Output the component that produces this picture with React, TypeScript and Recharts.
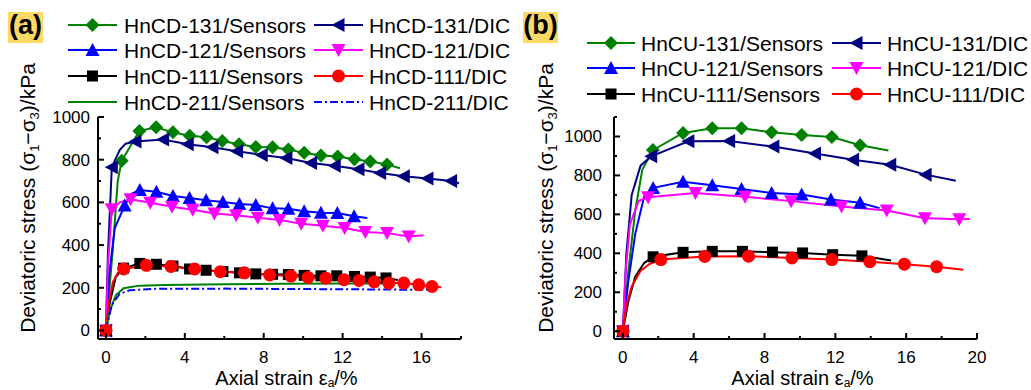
import { ComposedChart, Line, XAxis, YAxis, Label } from 'recharts'

type Pt = [number, number]
type Shape = 'diamond' | 'left' | 'up' | 'down' | 'square' | 'circle' | null

// ---------- (a) HnCD specimens: marked samples + extra curve points ----------
const cd131SensorsMarks: Pt[] = [[0, 0], [0.8, 795], [1.7, 935], [2.55, 952], [3.4, 928], [4.25, 912], [5.1, 905], [5.9, 888], [6.75, 872], [7.6, 860], [8.45, 858], [9.25, 848], [10.05, 832], [10.9, 820], [11.75, 815], [12.6, 802], [13.4, 792], [14.25, 778]]
const cd131SensorsLine: Pt[] = [[0.35, 380], [0.6, 700], [14.9, 760]]
const cd131DicMarks: Pt[] = [[0, 0], [0.3, 765], [1.5, 885], [2.9, 895], [4.15, 872], [5.4, 858], [6.65, 840], [7.9, 822], [9.15, 808], [10.4, 785], [11.6, 772], [12.8, 755], [13.9, 738], [15.1, 722], [16.3, 712], [17.5, 700]]
const cd131DicLine: Pt[] = [[0.1, 350], [0.7, 845], [1.0, 875], [17.9, 690]]
const cd121SensorsMarks: Pt[] = [[0, 0], [0.95, 585], [1.72, 658], [2.56, 650], [3.4, 630], [4.24, 620], [5.08, 610], [5.93, 602], [6.77, 593], [7.6, 588], [8.45, 572], [9.25, 570], [10.05, 558], [10.9, 552], [11.73, 550], [12.58, 535]]
const cd121SensorsLine: Pt[] = [[0.15, 250], [0.45, 480], [1.3, 640], [13.25, 527]]
const cd121DicMarks: Pt[] = [[0, 0], [0.3, 568], [1.25, 615], [2.25, 598], [3.35, 580], [4.4, 565], [5.5, 548], [6.6, 540], [7.7, 528], [8.8, 518], [9.9, 500], [11.0, 490], [12.1, 480], [13.15, 461], [14.25, 456], [15.35, 440]]
const cd121DicLine: Pt[] = [[0.1, 300], [0.7, 600], [16.1, 446]]
const cd111SensorsMarks: Pt[] = [[0, 0], [0.9, 292], [1.72, 314], [2.56, 310], [3.4, 302], [4.24, 288], [5.08, 282], [5.93, 276], [6.77, 270], [7.6, 265], [8.45, 263], [9.25, 262], [10.05, 258], [10.9, 256], [11.7, 256], [12.6, 253], [13.4, 250], [14.2, 246]]
const cd111SensorsLine: Pt[] = [[0.2, 130], [0.5, 250], [14.8, 236]]
const cd111DicMarks: Pt[] = [[0, 0], [0.9, 288], [2.05, 305], [3.3, 300], [4.5, 288], [5.8, 275], [7.02, 270], [8.3, 260], [9.38, 255], [10.25, 248], [11.15, 245], [12.07, 238], [12.83, 234], [13.6, 228], [14.34, 222], [15.1, 222], [15.86, 214], [16.53, 206]]
const cd111DicLine: Pt[] = [[0.15, 130], [0.35, 225], [0.6, 270], [17.0, 203]]
const cd211SensorsLine: Pt[] = [[0, 0], [0.2, 90], [0.5, 165], [0.9, 198], [1.7, 210], [3, 213], [6, 216], [9, 219], [12, 220], [14.6, 220]]
const cd211DicLine: Pt[] = [[0, 0], [0.3, 120], [0.7, 172], [1.2, 188], [2.5, 195], [6, 196], [10, 194], [14, 192], [16.4, 190]]

// ---------- (b) HnCU specimens ----------
const cu131SensorsMarks: Pt[] = [[0, 0], [1.7, 930], [3.4, 1018], [5.05, 1042], [6.7, 1042], [8.4, 1022], [10.1, 1008], [11.8, 997], [13.4, 955]]
const cu131SensorsLine: Pt[] = [[0.3, 300], [0.7, 620], [1.1, 830], [15.0, 928]]
const cu131DicMarks: Pt[] = [[0, 0], [1.6, 898], [3.7, 975], [6.0, 977], [8.5, 948], [10.85, 912], [13.0, 880], [15.1, 855], [17.1, 804]]
const cu131DicLine: Pt[] = [[0.2, 400], [0.5, 700], [1.0, 850], [18.8, 773]]
const cu121SensorsMarks: Pt[] = [[0, 0], [1.71, 736], [3.4, 768], [5.05, 750], [6.7, 730], [8.4, 710], [10.1, 702], [11.75, 676], [13.4, 660]]
const cu121SensorsLine: Pt[] = [[0.3, 250], [0.7, 500], [1.2, 690], [14.5, 632]]
const cu121DicMarks: Pt[] = [[0, 0], [1.43, 688], [4.1, 710], [6.9, 690], [9.5, 668], [12.35, 640], [14.9, 620], [17.06, 580], [19.0, 575]]
const cu121DicLine: Pt[] = [[0.15, 300], [0.4, 550], [0.9, 670], [19.6, 576]]
const cu111SensorsMarks: Pt[] = [[0, 0], [1.71, 382], [3.4, 405], [5.05, 410], [6.75, 410], [8.45, 406], [10.15, 402], [11.85, 393], [13.5, 387]]
const cu111SensorsLine: Pt[] = [[0.3, 150], [0.7, 280], [1.2, 350], [15.15, 363]]
const cu111DicMarks: Pt[] = [[0, 0], [2.15, 368], [4.63, 384], [7.1, 385], [9.55, 376], [11.8, 368], [13.95, 357], [15.9, 344], [17.72, 331]]
const cu111DicLine: Pt[] = [[0.2, 130], [0.5, 230], [1.0, 310], [1.5, 345], [19.23, 316]]

// axis ticks
const xTicksA = [0, 2, 4, 6, 8, 10, 12, 14, 16, 18]
const yTicksA = [0, 100, 200, 300, 400, 500, 600, 700, 800, 900, 1000]
const xTicksB = [0, 2, 4, 6, 8, 10, 12, 14, 16, 18, 20]
const yTicksB = [0, 100, 200, 300, 400, 500, 600, 700, 800, 900, 1000, 1100]

const FONT = '"Liberation Sans", Arial, Helvetica, sans-serif'

interface Series {
  name: string
  color: string
  shape: Shape
  dash?: string
  marks: Pt[]
  line: Pt[]
}

const seriesA: Series[] = [
  { name: 'HnCD-131/Sensors', color: '#008000', shape: 'diamond', marks: cd131SensorsMarks, line: cd131SensorsLine },
  { name: 'HnCD-131/DIC', color: '#000080', shape: 'left', marks: cd131DicMarks, line: cd131DicLine },
  { name: 'HnCD-121/Sensors', color: '#0000ff', shape: 'up', marks: cd121SensorsMarks, line: cd121SensorsLine },
  { name: 'HnCD-121/DIC', color: '#ff00ff', shape: 'down', marks: cd121DicMarks, line: cd121DicLine },
  { name: 'HnCD-111/Sensors', color: '#000000', shape: 'square', marks: cd111SensorsMarks, line: cd111SensorsLine },
  { name: 'HnCD-111/DIC', color: '#ff0000', shape: 'circle', marks: cd111DicMarks, line: cd111DicLine },
  { name: 'HnCD-211/Sensors', color: '#008000', shape: null, marks: [], line: cd211SensorsLine },
  { name: 'HnCD-211/DIC', color: '#0000ff', shape: null, dash: '8 3 2 3', marks: [], line: cd211DicLine },
]

const seriesB: Series[] = [
  { name: 'HnCU-131/Sensors', color: '#008000', shape: 'diamond', marks: cu131SensorsMarks, line: cu131SensorsLine },
  { name: 'HnCU-131/DIC', color: '#000080', shape: 'left', marks: cu131DicMarks, line: cu131DicLine },
  { name: 'HnCU-121/Sensors', color: '#0000ff', shape: 'up', marks: cu121SensorsMarks, line: cu121SensorsLine },
  { name: 'HnCU-121/DIC', color: '#ff00ff', shape: 'down', marks: cu121DicMarks, line: cu121DicLine },
  { name: 'HnCU-111/Sensors', color: '#000000', shape: 'square', marks: cu111SensorsMarks, line: cu111SensorsLine },
  { name: 'HnCU-111/DIC', color: '#ff0000', shape: 'circle', marks: cu111DicMarks, line: cu111DicLine },
]

function toRows(s: Series) {
  return [
    ...s.marks.map(([x, y]) => ({ x, y, m: true })),
    ...s.line.map(([x, y]) => ({ x, y, m: false })),
  ].sort((a, b) => a.x - b.x)
}

function Marker({ shape, cx, cy, color }: { shape: Shape; cx: number; cy: number; color: string }) {
  const r = 7
  switch (shape) {
    case 'diamond':
      return <polygon points={`${cx},${cy - r} ${cx + r},${cy} ${cx},${cy + r} ${cx - r},${cy}`} fill={color} />
    case 'left':
      return <polygon points={`${cx - r},${cy} ${cx + r - 1},${cy - r} ${cx + r - 1},${cy + r}`} fill={color} />
    case 'up':
      return <polygon points={`${cx},${cy - r} ${cx + r},${cy + r - 1} ${cx - r},${cy + r - 1}`} fill={color} />
    case 'down':
      return <polygon points={`${cx},${cy + r} ${cx + r},${cy - r + 1} ${cx - r},${cy - r + 1}`} fill={color} />
    case 'square':
      return <rect x={cx - 5.5} y={cy - 5.5} width={11} height={11} fill={color} />
    case 'circle':
      return <circle cx={cx} cy={cy} r={6.5} fill={color} />
    default:
      return null
  }
}

function XTick(props: any) {
  const { x, y, payload } = props
  const major = payload.value % 4 === 0
  return (
    <g>
      <line x1={x} x2={x} y1={y} y2={y - (major ? 6 : 3)} stroke="#000" strokeWidth={2} />
      {major && (
        <text x={x} y={y + 24} textAnchor="middle" fontSize={17} fontFamily={FONT} fill="#000">
          {payload.value}
        </text>
      )}
    </g>
  )
}

function YTick(props: any) {
  const { x, y, payload, gap } = props
  const major = payload.value % 200 === 0
  return (
    <g>
      <line x1={x} x2={x + (major ? 6 : 3)} y1={y} y2={y} stroke="#000" strokeWidth={2} />
      {major && (
        <text x={x - gap} y={y + 6} textAnchor="end" fontSize={17} fontFamily={FONT} fill="#000">
          {payload.value}
        </text>
      )}
    </g>
  )
}

function Panel({ series, width, margin, xDomain, yDomain, xTicks, yTicks, yGap, titleX }: any) {
  return (
    <ComposedChart width={width} height={390} margin={margin}>
      <XAxis
        type="number"
        dataKey="x"
        domain={xDomain}
        ticks={xTicks}
        interval={0}
        height={30}
        tickSize={0}
        tickMargin={0}
        tickLine={false}
        axisLine={{ stroke: '#000', strokeWidth: 2 }}
        tick={<XTick />}
      >
        <Label
          content={({ viewBox }: any) => (
            <text x={viewBox.x + viewBox.width / 2 + 7} y={385} textAnchor="middle" fontSize={20} fontFamily={FONT} fill="#000">
              Axial strain ε<tspan fontSize={12} dy={2}>a</tspan>
              <tspan dy={-2}>/%</tspan>
            </text>
          )}
        />
      </XAxis>
      <YAxis
        type="number"
        domain={yDomain}
        ticks={yTicks}
        interval={0}
        width={60}
        tickSize={0}
        tickMargin={0}
        tickLine={false}
        axisLine={{ stroke: '#000', strokeWidth: 2 }}
        tick={<YTick gap={yGap} />}
      >
        <Label
          content={() => (
            <text
              x={titleX}
              y={198}
              transform={`rotate(-90 ${titleX} 198)`}
              textAnchor="middle"
              fontSize={21}
              fontFamily={FONT}
              fill="#000"
            >
              Deviatoric stress (σ<tspan fontSize={13} dy={4}>1</tspan>
              <tspan dy={-4}>−σ</tspan>
              <tspan fontSize={13} dy={4}>3</tspan>
              <tspan dy={-4}>)/kPa</tspan>
            </text>
          )}
        />
      </YAxis>
      {series.map((s: Series) => (
        <Line
          key={s.name}
          data={toRows(s)}
          dataKey="y"
          type="linear"
          stroke={s.color}
          strokeWidth={2}
          strokeDasharray={s.dash}
          isAnimationActive={false}
          dot={(p: any) =>
            p.payload && p.payload.m && s.shape ? (
              <Marker key={`${s.name}-${p.index}`} shape={s.shape} cx={p.cx} cy={p.cy} color={s.color} />
            ) : (
              <g key={`${s.name}-${p.index}`} />
            )
          }
          activeDot={false}
        />
      ))}
    </ComposedChart>
  )
}

function LegendBlock({ series, rows, cols }: { series: Series[]; rows: number[]; cols: number[][] }) {
  return (
    <g>
      {series.map((s, i) => {
        const y = rows[Math.floor(i / 2)]
        const [x1, x2, tx] = cols[i % 2]
        const mx = (x1 + x2) / 2
        return (
          <g key={s.name}>
            <line x1={x1} x2={x2} y1={y} y2={y} stroke={s.color} strokeWidth={2} strokeDasharray={s.dash} />
            {s.shape && <Marker shape={s.shape} cx={mx} cy={y} color={s.color} />}
            <text x={tx} y={y + 7.5} fontSize={21} fontFamily={FONT} fill="#000">
              {s.name}
            </text>
          </g>
        )
      })}
    </g>
  )
}

function Tag({ x, label }: { x: number; label: string }) {
  return (
    <g>
      <rect x={x} y={12} width={35} height={31} fill="#FFD966" />
      <text x={x + 17.5} y={34} textAnchor="middle" fontSize={27} fontWeight="bold" fontFamily={FONT} fill="#000">
        {label}
      </text>
    </g>
  )
}

export default function App() {
  return (
    <div style={{ position: 'absolute', left: 0, top: 0, width: 1031, height: 390, background: '#fff' }}>
      <div style={{ position: 'absolute', left: 0, top: 0 }}>
        <Panel
          series={seriesA}
          width={520}
          margin={{ top: 117, right: 59, bottom: 21, left: 38 }}
          xDomain={[-0.4, 18]}
          yDomain={[-40, 1000]}
          xTicks={xTicksA}
          yTicks={yTicksA}
          yGap={8}
          titleX={35}
        />
      </div>
      <div style={{ position: 'absolute', left: 520, top: 0 }}>
        <Panel
          series={seriesB}
          width={511}
          margin={{ top: 117, right: 54, bottom: 21, left: 34 }}
          xDomain={[-0.5, 20]}
          yDomain={[-40, 1100]}
          xTicks={xTicksB}
          yTicks={yTicksB}
          yGap={12}
          titleX={33}
        />
      </div>
      <svg width={1031} height={390} style={{ position: 'absolute', left: 0, top: 0, pointerEvents: 'none' }}>
        <Tag x={8} label="(a)" />
        <Tag x={523} label="(b)" />
        <LegendBlock series={seriesA} rows={[25, 50, 76, 102]} cols={[[68, 117, 124], [314, 363, 369]]} />
        <LegendBlock series={seriesB} rows={[43, 68, 94]} cols={[[587, 635, 641], [832, 881, 887]]} />
      </svg>
    </div>
  )
}
